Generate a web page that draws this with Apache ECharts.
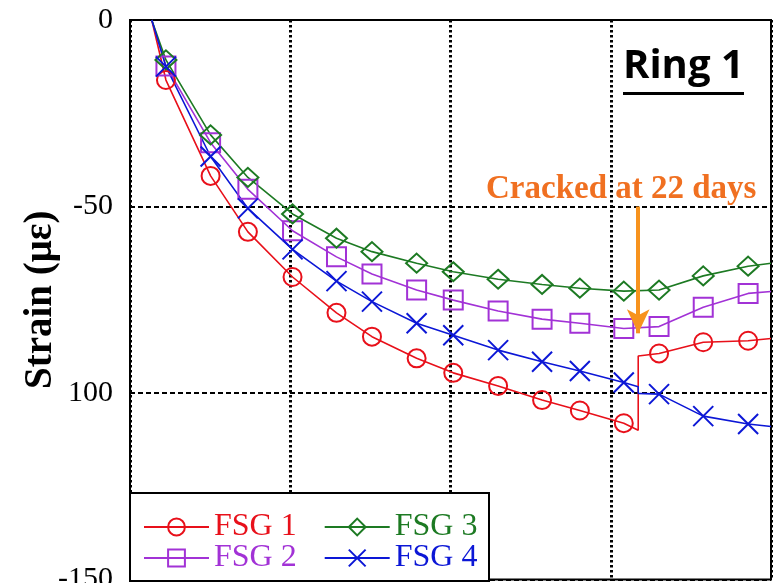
<!DOCTYPE html>
<html>
<head>
<meta charset="utf-8">
<script src="https://cdn.jsdelivr.net/npm/echarts@6/dist/echarts.min.js"></script>
<style>
  html, body { margin: 0; padding: 0; background: #fff; }
  #chart { width: 774px; height: 583px; }
</style>
</head>
<body>
<div id="chart"></div>
<script>
// days where the markers sit (shared by all gauges)
const markDays = [1.57, 3.52, 5.15, 7.1, 9.02, 10.57, 12.52, 14.12, 16.08, 18.0, 19.65, 21.57, 23.11, 25.04, 27.0];

// strain at the markers
const fsg1 = [-16.1, -41.8, -56.8, -68.9, -78.5, -84.9, -90.7, -94.6, -98.1, -101.9, -104.7, -108.1, -89.4, -86.4, -86.0];
const fsg2 = [-12.3, -32.9, -45.4, -56.5, -63.5, -68.1, -72.4, -75.1, -78.0, -80.2, -81.3, -82.7, -82.2, -77.0, -73.3];
const fsg3 = [-10.7, -30.8, -42.2, -52.0, -58.5, -62.1, -65.2, -67.5, -69.5, -70.9, -71.9, -72.7, -72.4, -68.6, -66.0];
const fsg4 = [-12.5, -36.6, -50.5, -61.5, -70.0, -75.5, -81.3, -84.5, -88.5, -91.6, -94.1, -97.2, -100.3, -106.2, -108.3];

// line ends (no marker)
const startDay = 0.95;
const endDay = 28;
const endStrain = { 'FSG 1': -85.4, 'FSG 2': -72.8, 'FSG 3': -65.2, 'FSG 4': -109.0 };

// cracking
const crackDay = 22.2;
const fsg1Crack = [-110.0, -90.1];
const fsg4Crack = [-98.3, -100.1];

const yTickValues = [0, -50, -100, -150];
const yTickLabels = ['0', '-50', '100', '-150'];

const colors = {
    'FSG 1': '#e8101a',
    'FSG 2': '#a232d6',
    'FSG 3': '#1d7a23',
    'FSG 4': '#0c17d6'
};

function buildData(name, vals, crack) {
    let pts = [{ value: [startDay, 0], symbol: 'none' }];
    for (let i = 0; i < markDays.length; i++) {
        if (crack && markDays[i] > crackDay && pts[pts.length - 1].value[0] < crackDay) {
            crack.forEach(v => pts.push({ value: [crackDay, v], symbol: 'none' }));
        }
        pts.push({ value: [markDays[i], vals[i]] });
    }
    pts.push({ value: [endDay, endStrain[name]], symbol: 'none' });
    return pts;
}

function mkSeries(name, vals, crack, symbol, symbolSize) {
    let c = colors[name];
    return {
        name: name,
        type: 'line',
        data: buildData(name, vals, crack),
        symbol: symbol,
        symbolSize: symbolSize,
        showAllSymbol: true,
        lineStyle: { color: c, width: 1.6 },
        itemStyle: { color: 'rgba(0,0,0,0)', borderColor: c, borderWidth: 2 },
        emphasis: { disabled: true },
        z: 3
    };
}

const serif = 'Liberation Serif';

let series = [
    mkSeries('FSG 1', fsg1, fsg1Crack, 'circle', 18),
    mkSeries('FSG 2', fsg2, null, 'rect', 19),
    mkSeries('FSG 3', fsg3, null, 'diamond', [21, 19]),
    mkSeries('FSG 4', fsg4, fsg4Crack, 'path://M0,0L10,10M10,0L0,10', 20)
];

// arrow pointing at the crack
series[0].markLine = {
    silent: true,
    symbol: ['none', 'arrow'],
    label: { show: false },
    lineStyle: { color: '#f7931e', width: 4, type: 'solid' },
    data: [[
        { coord: [crackDay, -50], symbol: 'none' },
        { coord: [crackDay, -84], symbol: 'arrow', symbolSize: [17, 24] }
    ]]
};

function legendItem(name) {
    return { name: name, textStyle: { color: colors[name] } };
}

const legendBase = {
    left: 143,
    padding: 0,
    itemWidth: 65,
    itemHeight: 21,
    itemGap: 27,
    z: 30,
    selectedMode: false,
    textStyle: { fontFamily: serif, fontSize: 32 }
};

let option = {
    backgroundColor: '#fff',
    animation: false,
    grid: {
        left: 130,
        right: 3,
        top: 20,
        bottom: 3.5,
        outerBoundsMode: 'none',
        containLabel: false,
        show: true,
        borderColor: '#000',
        borderWidth: 2
    },
    xAxis: {
        type: 'value',
        min: 0,
        max: 28,
        interval: 7,
        axisLine: { show: false },
        axisTick: { show: false },
        axisLabel: { show: false },
        splitLine: { show: true, lineStyle: { color: '#000', width: 3, type: [2.5, 2.5] } }
    },
    yAxis: {
        type: 'value',
        min: -150,
        max: 0,
        interval: 50,
        name: 'Strain (με)',
        nameLocation: 'middle',
        nameGap: 70,
        nameMoveOverlap: false,
        nameTextStyle: { fontFamily: serif, fontSize: 39, fontWeight: 'bold', color: '#000' },
        axisLine: { show: true, lineStyle: { color: '#000', width: 2 } },
        axisTick: { show: false },
        axisLabel: {
            margin: 17,
            fontFamily: serif,
            fontSize: 30,
            color: '#000',
            formatter: v => yTickLabels[yTickValues.indexOf(v)]
        },
        splitLine: { show: true, lineStyle: { color: '#000', width: 1.8, type: [5, 3] } }
    },
    legend: [
        Object.assign({}, legendBase, { top: 511, data: [legendItem('FSG 1'), legendItem('FSG 3')] }),
        Object.assign({}, legendBase, { top: 542, data: [legendItem('FSG 2'), legendItem('FSG 4')] })
    ],
    graphic: [
        {
            type: 'rect',
            z: 20,
            shape: { x: 130, y: 493, width: 359, height: 88 },
            style: { fill: '#fff', stroke: '#000', lineWidth: 2 }
        },
        {
            type: 'text',
            z: 20,
            left: 623,
            top: 47,
            style: { text: 'Ring 1', font: 'bold 40px "Open Sans"', fill: '#000' }
        },
        {
            type: 'rect',
            z: 20,
            shape: { x: 623, y: 92, width: 121, height: 3 },
            style: { fill: '#000' }
        },
        {
            type: 'text',
            z: 20,
            left: 486,
            top: 173,
            style: { text: 'Cracked at 22 days', font: 'bold 33px "Liberation Serif"', fill: '#f07021' }
        }
    ],
    series: series
};

let chart = echarts.init(document.getElementById('chart'));
chart.setOption(option);
</script>
</body>
</html>
